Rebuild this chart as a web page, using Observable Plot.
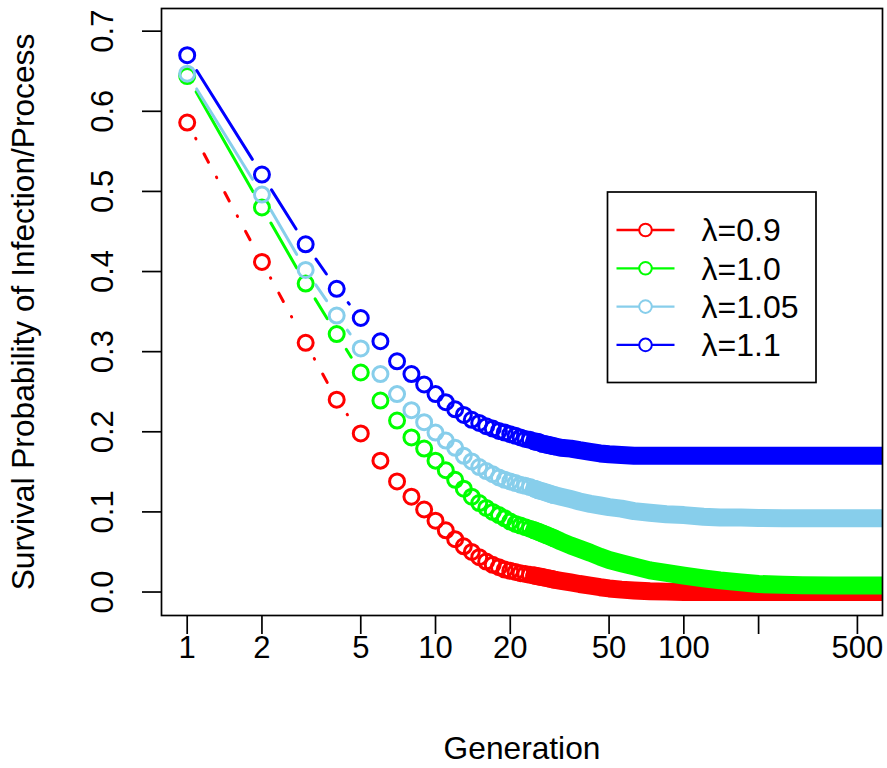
<!DOCTYPE html>
<html><head><meta charset="utf-8">
<script src="https://cdn.jsdelivr.net/npm/d3@7"></script>
<script src="https://cdn.jsdelivr.net/npm/@observablehq/plot@0.6"></script>
<style>
body{margin:0;background:#fff}
#chart{position:relative;width:887px;height:768px}
</style>
</head><body><div id="chart"></div>
<script>
// ---------- data ----------
const generations = [1,2,3,4,5,6,7,8,9,10,11,12,13,14,15,16,17,18,19,20,21,22,23,24,25,26,27,28,29,30,
  32,35,38,42,46,50,56,63,73,85,100,120,140,170,200,250,300,400,500,700];

const survivalLambda09 = [0.586,0.412,0.311,0.240,0.198,0.164,0.138,0.119,0.103,0.089,
  0.077,0.066,0.057,0.050,0.0435,0.038,0.034,0.031,0.028,0.0265,
  0.025,0.0235,0.0225,0.0215,0.0205,0.0195,0.0185,0.0175,0.0165,0.0155,
  0.014,0.012,0.010,0.008,0.006,0.0045,0.003,0.002,0.001,0.0005,0,0,0,0,0,0,0,0,0,0];

const survivalLambda10 = [0.644,0.480,0.385,0.322,0.274,0.239,0.214,0.193,0.179,0.164,
  0.152,0.140,0.129,0.119,0.111,0.105,0.100,0.096,0.092,0.088,
  0.085,0.083,0.081,0.079,0.077,0.075,0.073,0.071,0.069,0.067,
  0.063,0.058,0.054,0.049,0.044,0.040,0.036,0.032,0.027,0.024,0.0205,0.017,0.0145,0.012,0.010,0.009,0.0085,0.008,0.008,0.008];

const survivalLambda105 = [0.647,0.496,0.402,0.345,0.304,0.272,0.247,0.227,0.212,0.199,
  0.189,0.180,0.170,0.163,0.156,0.151,0.147,0.143,0.140,0.138,
  0.136,0.134,0.1325,0.131,0.129,0.127,0.1255,0.124,0.1225,0.121,
  0.119,0.116,0.113,0.110,0.108,0.106,0.104,0.101,0.099,0.097,0.096,0.094,0.093,0.093,0.0925,0.092,0.092,0.092,0.092,0.092];

const survivalLambda11 = [0.670,0.521,0.434,0.3785,0.342,0.313,0.288,0.272,0.259,0.247,
  0.237,0.228,0.221,0.215,0.211,0.207,0.204,0.201,0.199,0.197,
  0.195,0.193,0.191,0.190,0.188,0.187,0.185,0.184,0.183,0.182,
  0.180,0.179,0.177,0.175,0.173,0.172,0.171,0.170,0.170,0.170,0.170,0.170,0.170,0.170,0.170,0.170,0.170,0.170,0.170,0.170];

const seriesNames = ["λ=0.9","λ=1.0","λ=1.05","λ=1.1"];
const seriesColors = ["#FF0000","#00FF00","#87CEEB","#0000FF"];
const seriesDash = ["0.5,17,9.5,17", null, null, null];

const xTicks = [1,2,5,10,20,50,100,200,500];
const xTickLabels = ["1","2","5","10","20","50","100","","500"];
const yTicks = [0,0.1,0.2,0.3,0.4,0.5,0.6,0.7];
const yTickLabels = ["0.0","0.1","0.2","0.3","0.4","0.5","0.6","0.7"];
const xTitle = "Generation";
const yTitle = "Survival Probability of Infection/Process";

// ---------- layout ----------
const W = 887, H = 768;
const mL = 161, mR = 5, mT = 8, mB = 153;
const xDomain = [0.788, 631];
const yDomain = [-0.0293, 0.7283];
const FONT = "'Liberation Sans', Arial, Helvetica, sans-serif";
const FS = 31, FS_TITLE = 31.7, FS_LEGEND = 32;
const pointR = 7.5, pointSW = 3, lineSW = 3, gapPx = 18;

const allSeries = [survivalLambda09, survivalLambda10, survivalLambda105, survivalLambda11];

// pixel scales equal to Plot's, used only to decide which connecting segments are long enough
const px = d3.scaleLog().domain(xDomain).range([mL, W - mR]);
const py = d3.scaleLinear().domain(yDomain).range([H - mB, mT]);

const marks = [];
allSeries.forEach((vals, s) => {
  const rows = generations.map((g, i) => ({g, v: vals[i]}));
  const head = rows.filter(d => d.g <= 30);
  const segs = [];
  for (let i = 0; i < head.length - 1; i++) {
    const a = head[i], b = head[i + 1];
    const len = Math.hypot(px(b.g) - px(a.g), py(b.v) - py(a.v));
    if (len > 2 * gapPx + 0.5) segs.push({g1: a.g, v1: a.v, g2: b.g, v2: b.v});
  }
  marks.push(Plot.arrow(segs, {
    x1: "g1", y1: "v1", x2: "g2", y2: "v2",
    insetStart: gapPx, insetEnd: gapPx, headLength: 0,
    stroke: seriesColors[s], strokeWidth: lineSW,
    strokeDasharray: seriesDash[s] || undefined,
    strokeLinecap: "round"
  }));
  marks.push(Plot.dot(head, {
    x: "g", y: "v", r: pointR, stroke: seriesColors[s], strokeWidth: pointSW, fill: "none"
  }));
  marks.push(Plot.line(rows.filter(d => d.g >= 25), {
    x: "g", y: "v", stroke: seriesColors[s], strokeWidth: 2 * pointR + pointSW,
    strokeLinecap: "round", strokeLinejoin: "round", clip: true
  }));
});

const svg = Plot.plot({
  width: W, height: H,
  marginLeft: mL, marginRight: mR, marginTop: mT, marginBottom: mB,
  style: {fontFamily: FONT, fontSize: FS + "px", background: "white", color: "black"},
  x: {type: "log", domain: xDomain, axis: null},
  y: {type: "linear", domain: yDomain, axis: null},
  marks: [
    ...marks,
    Plot.frame({stroke: "black", strokeWidth: 1.7}),
    Plot.axisX({ticks: xTicks, tickSize: 19, strokeWidth: 1.7, tickFormat: () => "", fontSize: FS}),
    Plot.text(xTicks, {x: d => d, text: (d, i) => xTickLabels[i], frameAnchor: "bottom", dy: 33,
      textAnchor: "middle", lineAnchor: "middle", fontSize: FS}),
    Plot.axisY({ticks: yTicks, tickSize: 19, strokeWidth: 1.7, tickFormat: () => "", fontSize: FS}),
    Plot.text(yTicks, {y: d => d, text: (d, i) => yTickLabels[i], frameAnchor: "left", dx: -58,
      rotate: -90, textAnchor: "middle", lineAnchor: "middle", fontSize: FS}),
    Plot.text([xTitle], {text: d => d, frameAnchor: "bottom", dy: 133, textAnchor: "middle", lineAnchor: "middle", fontSize: FS_TITLE}),
    Plot.text([yTitle], {text: d => d, frameAnchor: "left", dx: -138, rotate: -90, textAnchor: "middle", lineAnchor: "middle", fontSize: FS_TITLE})
  ]
});

// ---------- legend (inside the plotting area, top right) ----------
const lg = d3.select(svg).append("g").attr("transform", "translate(607.5,192)");
lg.append("rect").attr("width", 208.5).attr("height", 190.5)
  .attr("fill", "white").attr("stroke", "black").attr("stroke-width", 1.7);
seriesNames.forEach((name, i) => {
  const yRow = 38 + i * 38.3;
  const row = lg.append("g").attr("transform", `translate(0,${yRow})`);
  row.append("line").attr("x1", 9).attr("x2", 67).attr("y1", 0).attr("y2", 0)
    .attr("stroke", seriesColors[i]).attr("stroke-width", 2.3);
  row.append("circle").attr("cx", 38).attr("cy", 0).attr("r", 6.3)
    .attr("fill", "white").attr("stroke", seriesColors[i]).attr("stroke-width", 2);
  row.append("text").attr("x", 94).attr("y", 0.355 * FS_LEGEND).attr("text-anchor", "start")
    .attr("font-family", FONT).attr("font-size", FS_LEGEND).attr("fill", "black").text(name);
});

document.getElementById("chart").appendChild(svg);
</script>
</body></html>
